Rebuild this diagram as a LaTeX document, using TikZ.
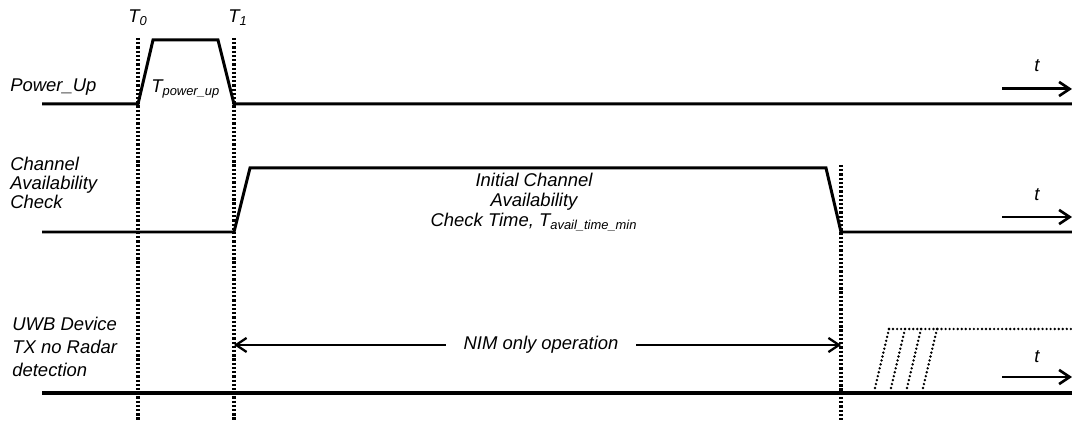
\documentclass[tikz,border=0pt]{standalone}
\usepackage{fontspec}
\setmainfont{Liberation Sans}
\usetikzlibrary{arrows.meta}
\begin{document}
\begin{tikzpicture}[x=0.02cm,y=-0.02cm,
	sig/.style={line width=1.7pt},
	base/.style={line width=2.2pt},
	marker/.style={line width=2.2pt,dash pattern=on 1.3pt off 1.1pt},
	ramp/.style={line width=1.5pt,line cap=round,dash pattern=on 0pt off 2.3pt},
	lbl/.style={font=\fontsize{10.5}{10.6}\selectfont\itshape,inner sep=0pt,align=left,anchor=west},
	ctr/.style={font=\fontsize{10.5}{11.3}\selectfont\itshape,inner sep=0pt,align=center},
	taxis/.style={line width=1.7pt,-{Straight Barb[length=6pt,width=8pt,line width=1.5pt]}},
	span/.style={line width=1.3pt,-{Straight Barb[length=6pt,width=8pt,line width=1.3pt]}}]
	\useasboundingbox (0,0) rectangle (1072,421);
	% time markers
	\coordinate (m0top) at (138,38); \coordinate (m0bot) at (138,421);
	\coordinate (m1top) at (234,38); \coordinate (m1bot) at (234,421);
	\coordinate (m2top) at (841,165); \coordinate (m2bot) at (841,421);
	\draw [marker] (m0top)--(m0bot);
	\draw [marker] (m1top)--(m1bot);
	\draw [marker] (m2top)--(m2bot);
	\node (lt0) at (138,18) {\fontsize{10.5}{12}\selectfont\itshape T\textsubscript{0}};
	\node (lt1) at (238,18) {\fontsize{10.5}{12}\selectfont\itshape T\textsubscript{1}};
	% Power_Up
	\node [lbl] (lpow) at (10,87) {Power\_Up};
	\draw [sig] (42,104)--(138,104)--(153,40)--(218,40)--(234,104)--(1072,104);
	\node [lbl] (ltpow) at (151,89) {T\textsubscript{power\_up}};
	\coordinate (t1a) at (1002,89); \coordinate (t1b) at (1072,89);
	\draw [taxis] (t1a)--(t1b);
	\node (lt1t) at (1037,66) {\fontsize{10.5}{12}\selectfont\itshape t};
	% Channel Availability Check
	\node [lbl] (lcac) at (10,183) {Channel\\Availability\\Check};
	\draw [sig] (42,232)--(234,232)--(250,168)--(826,168)--(841,232)--(1072,232);
	\node [ctr] (lict) at (534,202) {Initial Channel\\Availability\\Check Time, T\textsubscript{avail\_time\_min}};
	\coordinate (t2a) at (1002,217); \coordinate (t2b) at (1072,217);
	\draw [taxis] (t2a)--(t2b);
	\node (lt2t) at (1037,195) {\fontsize{10.5}{12}\selectfont\itshape t};
	% UWB Device TX
	\node [lbl,font=\fontsize{10.5}{13.3}\selectfont\itshape] (luwb) at (12,347) {UWB Device\\TX no Radar\\detection};
	\draw [base] (42,393)--(1072,393);
	\node [ctr,inner xsep=10pt] (lnim) at (541,345) {NIM only operation};
	\coordinate (n1) at (234,345); \coordinate (n2) at (841,345);
	\draw [span] (lnim.west)--(n1);
	\draw [span] (lnim.east)--(n2);
	\foreach \x in {875,891,907,923}
		\draw [ramp] (\x,388)--(\x+14,329);
	\draw [ramp] (889,329)--(1072,329);
	\coordinate (t3a) at (1002,377); \coordinate (t3b) at (1072,377);
	\draw [taxis] (t3a)--(t3b);
	\node (lt3t) at (1037,357) {\fontsize{10.5}{12}\selectfont\itshape t};
\end{tikzpicture}
\end{document}
